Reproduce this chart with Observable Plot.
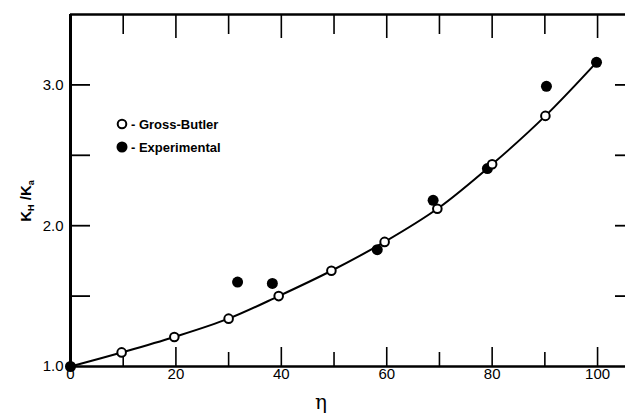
<!DOCTYPE html>
<html><head><meta charset="utf-8">
<script src="https://cdn.jsdelivr.net/npm/d3@7"></script>
<script src="https://cdn.jsdelivr.net/npm/@observablehq/plot@0.6"></script>
<style>
body{margin:0;background:#fff;}
#wrap{position:relative;width:625px;height:418px;}
</style></head><body><div id="wrap"></div>
<script>
// Gross-Butler calculation (open circles)
const grossEta = [9.7, 19.7, 30.0, 39.5, 49.5, 59.6, 69.6, 80.0, 90.1];
const grossK   = [1.10, 1.21, 1.34, 1.50, 1.68, 1.885, 2.12, 2.436, 2.78];
// Experimental (filled circles)
const expEta = [0, 31.7, 38.3, 58.2, 68.8, 79.1, 90.3, 99.8];
const expK   = [1.0, 1.60, 1.59, 1.83, 2.18, 2.406, 2.99, 3.16];
// smooth curve through the calculated values
const curveEta = [0, 9.7, 19.7, 30.0, 39.5, 49.5, 59.6, 69.6, 80.0, 90.1, 99.8];
const curveK   = [1.0, 1.10, 1.21, 1.34, 1.50, 1.68, 1.885, 2.12, 2.436, 2.78, 3.16];
// axis ticks
const xMajor = [20, 40, 60, 80, 100];
const xMinor = [10, 30, 50, 70, 90];
const xLabels = [0, 20, 40, 60, 80, 100];
const yTicks = [1.5, 2.0, 2.5, 3.0];
const yLabels = [1.0, 2.0, 3.0];
const legendItems = ["- Gross-Butler", "- Experimental"];

const gross = grossEta.map((x, i) => ({x, y: grossK[i]}));
const exp = expEta.map((x, i) => ({x, y: expK[i]}));
const curve = curveEta.map((x, i) => ({x, y: curveK[i]}));

const font = '"Liberation Sans", Arial, sans-serif';
const blank = () => "";
const fmtY = d3.format(".1f");

const plot = Plot.plot({
  width: 625, height: 418,
  marginLeft: 70, marginRight: 0, marginTop: 14, marginBottom: 52,
  style: {background: "#fff", fontFamily: font, color: "#000"},
  x: {domain: [0, 105.3], axis: null},
  y: {domain: [1, 3.5], axis: null},
  marks: [
    Plot.ruleY([1], {stroke: "#000", strokeWidth: 2.5}),
    Plot.ruleY([3.5], {stroke: "#000", strokeWidth: 2.5}),
    Plot.ruleX([0], {stroke: "#000", strokeWidth: 3}),
    Plot.axisX({anchor: "bottom", label: null, ticks: xMajor, tickSize: -19, tickFormat: blank, strokeWidth: 1.6}),
    Plot.axisX({anchor: "bottom", label: null, ticks: xMinor, tickSize: -14, tickFormat: blank, strokeWidth: 1.6}),
    Plot.text(xLabels, {x: d => d, frameAnchor: "bottom", dy: 12, fontSize: 15, fontWeight: 500, text: d => String(d)}),
    Plot.axisX({anchor: "top", label: null, ticks: xMajor, tickSize: -23, tickFormat: blank, strokeWidth: 1.6}),
    Plot.axisX({anchor: "top", label: null, ticks: xMinor, tickSize: -19, tickFormat: blank, strokeWidth: 1.6}),
    Plot.axisY({anchor: "left", label: null, ticks: yTicks, tickSize: -20, tickFormat: blank, strokeWidth: 1.8}),
    Plot.text(yLabels, {y: d => d, frameAnchor: "left", dx: -7, textAnchor: "end", fontSize: 15, fontWeight: 500, text: d => fmtY(d)}),
    Plot.axisY({anchor: "right", label: null, ticks: yTicks, tickSize: -11, tickFormat: blank, strokeWidth: 1.8}),
    Plot.line(curve, {x: "x", y: "y", curve: "catmull-rom", stroke: "#000", strokeWidth: 2}),
    Plot.dot(exp, {x: "x", y: "y", r: 5.5, fill: "#000", stroke: "none"}),
    Plot.dot(gross, {x: "x", y: "y", r: 4.3, fill: "#fff", stroke: "#000", strokeWidth: 2}),
    Plot.text(["η"], {frameAnchor: "bottom", dx: -27, dy: 42, fontSize: 20, fontFamily: '"DejaVu Serif", serif'})
  ]
});
document.getElementById("wrap").appendChild(plot);

const svg = d3.select(plot);
// y-axis title with subscripts
const yt = svg.append("text")
  .attr("transform", "translate(31,201) rotate(-90)")
  .attr("text-anchor", "middle")
  .attr("font-family", font).attr("font-weight", "bold").attr("font-size", 15).attr("fill", "#000");
yt.append("tspan").text("K");
yt.append("tspan").attr("font-size", 9).attr("dy", 3).text("H");
yt.append("tspan").attr("dy", -3).text(" /K");
yt.append("tspan").attr("font-size", 9).attr("dy", 3).text("a");

// legend
const lg = svg.append("g").attr("font-family", font).attr("font-weight", "bold").attr("font-size", 13).attr("text-anchor", "start");
legendItems.forEach((t, i) => {
  const cy = 124 + i * 23;
  if (i === 0) lg.append("circle").attr("cx", 122).attr("cy", cy).attr("r", 4.3).attr("fill", "#fff").attr("stroke", "#000").attr("stroke-width", 2);
  else lg.append("circle").attr("cx", 122).attr("cy", cy).attr("r", 5.5).attr("fill", "#000");
  lg.append("text").attr("x", 131).attr("y", cy + 4.5).attr("fill", "#000").text(t);
});
</script>
</body></html>
